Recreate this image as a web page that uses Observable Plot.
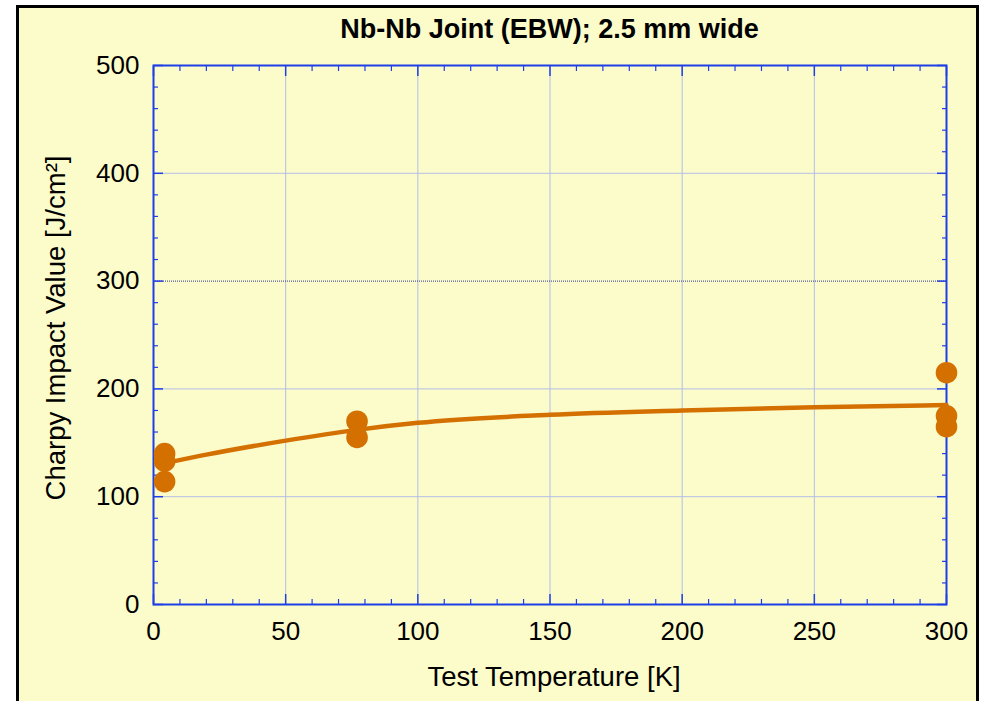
<!DOCTYPE html>
<html>
<head>
<meta charset="utf-8">
<script src="https://cdn.jsdelivr.net/npm/d3@7"></script>
<script src="https://cdn.jsdelivr.net/npm/@observablehq/plot@0.6"></script>
<style>
  html, body { margin: 0; padding: 0; background: #ffffff; width: 982px; height: 701px; overflow: hidden; }
  #panel { position: absolute; left: 16px; top: 5px; width: 957px; height: 730px; border: 3px solid #000; background: #FCFCCB; }
  #title { position: absolute; left: 153px; width: 793px; top: 16px; text-align: center; font: bold 27px "Liberation Sans", Arial, sans-serif; line-height: 26px; color: #000; }
  #chart { position: absolute; left: 0; top: 0; }
</style>
</head>
<body>
<div id="panel"></div>
<div id="title">Nb-Nb Joint (EBW); 2.5 mm wide</div>
<div id="chart"></div>
<script>
// Measured Charpy impact values
const measuredT = [4.2, 4.2, 4.2, 77, 77, 300, 300, 300];
const measuredV = [140, 133, 114, 170, 155, 215, 175, 165];
// Fitted curve
const fitT = [4.2, 20, 50, 77, 100, 150, 200, 250, 300];
const fitV = [131, 139, 152, 162, 168.5, 176, 180, 183, 185];
// Ticks
const xMajor = [0, 50, 100, 150, 200, 250, 300];
const xMinor = [10, 20, 30, 40, 60, 70, 80, 90, 110, 120, 130, 140, 160, 170, 180, 190, 210, 220, 230, 240, 260, 270, 280, 290];
const yMajor = [0, 100, 200, 300, 400, 500];
const yMinor = [20, 40, 60, 80, 120, 140, 160, 180, 220, 240, 260, 280, 320, 340, 360, 380, 420, 440, 460, 480];
const xGrid = [50, 100, 150, 200, 250];
const yGrid = [100, 200, 400];
const yDark = [300];

const points = measuredT.map((t, i) => ({t, v: measuredV[i]}));
const fit = fitT.map((t, i) => ({t, v: fitV[i]}));

const axisBlue = "#1f3fe6";
const gridC = "#b4bde6";
const orange = "#D47000";
const font = "Liberation Sans, Arial, sans-serif";

const chart = Plot.plot({
  width: 982,
  height: 701,
  marginLeft: 153,
  marginRight: 36,
  marginTop: 65,
  marginBottom: 97,
  style: {background: "transparent", fontFamily: font, fontSize: "26px", color: "#000", overflow: "visible"},
  x: {domain: [0, 300]},
  y: {domain: [0, 500]},
  marks: [
    Plot.gridX(xGrid, {stroke: gridC, strokeOpacity: 1, strokeWidth: 1}),
    Plot.gridY(yGrid, {stroke: gridC, strokeOpacity: 1, strokeWidth: 1}),
    Plot.gridY(yDark, {stroke: "#27318a", strokeOpacity: 1, strokeWidth: 1, strokeDasharray: "1,1"}),
    // inward ticks, all four sides
    Plot.axisX(xMajor, {anchor: "bottom", tickSize: -10, text: null, label: null, stroke: axisBlue, strokeWidth: 1.5}),
    Plot.axisX(xMinor, {anchor: "bottom", tickSize: -5, text: null, label: null, stroke: axisBlue, strokeWidth: 1.2}),
    Plot.axisX(xMajor, {anchor: "top", tickSize: -10, text: null, label: null, stroke: axisBlue, strokeWidth: 1.5}),
    Plot.axisX(xMinor, {anchor: "top", tickSize: -5, text: null, label: null, stroke: axisBlue, strokeWidth: 1.2}),
    Plot.axisY(yMajor, {anchor: "left", tickSize: -10, text: null, label: null, stroke: axisBlue, strokeWidth: 1.5}),
    Plot.axisY(yMinor, {anchor: "left", tickSize: -5, text: null, label: null, stroke: axisBlue, strokeWidth: 1.2}),
    Plot.axisY(yMajor, {anchor: "right", tickSize: -10, text: null, label: null, stroke: axisBlue, strokeWidth: 1.5}),
    Plot.axisY(yMinor, {anchor: "right", tickSize: -5, text: null, label: null, stroke: axisBlue, strokeWidth: 1.2}),
    // tick labels
    Plot.axisX(xMajor, {anchor: "bottom", tickSize: 0, tickPadding: 17, label: null, fontSize: 26, fill: "#000"}),
    Plot.axisY(yMajor, {anchor: "left", tickSize: 0, tickPadding: 14, label: null, fontSize: 26, fill: "#000"}),
    Plot.frame({stroke: axisBlue, strokeWidth: 2}),
    // axis titles
    Plot.text(["Test Temperature [K]"], {frameAnchor: "bottom", dx: 4, dy: 81, fontSize: 27.5, fill: "#000"}),
    Plot.text(["Charpy Impact Value [J/cm²]"], {frameAnchor: "left", textAnchor: "middle", rotate: -90, dx: -97, dy: -7, fontSize: 27.5, fill: "#000"}),
    // data
    Plot.line(fit, {x: "t", y: "v", stroke: orange, strokeWidth: 4.5, curve: "monotone-x"}),
    Plot.dot(points, {x: "t", y: "v", r: 10.8, fill: orange, stroke: "none"})
  ]
});
document.getElementById("chart").appendChild(chart);
</script>
</body>
</html>
